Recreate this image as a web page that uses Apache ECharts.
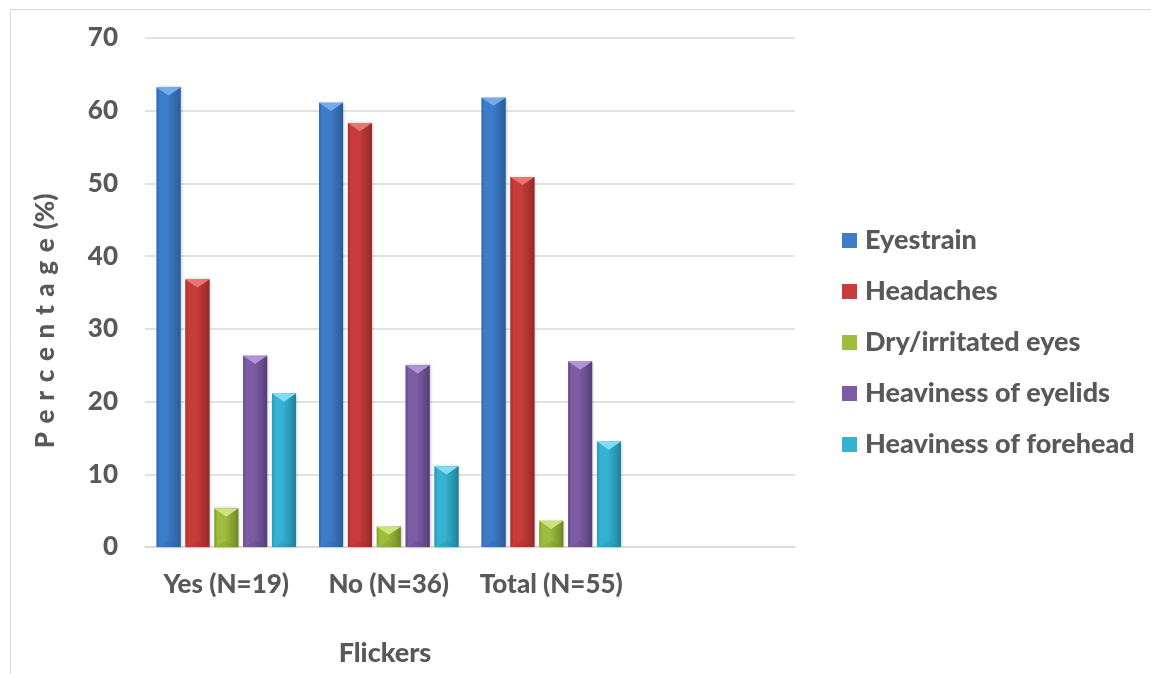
<!DOCTYPE html>
<html>
<head>
<meta charset="utf-8">
<script src="https://cdn.jsdelivr.net/npm/echarts@6/dist/echarts.min.js"></script>
<style>
  html, body { margin: 0; padding: 0; background: #ffffff; }
  #chart { width: 1151px; height: 674px; }
</style>
</head>
<body>
<div id="chart"></div>
<script>
// Symptoms reported by flicker exposure group (percent of respondents)
const categories = ['Yes (N=19)', 'No (N=36)', 'Total (N=55)', ''];
const eyestrain = [63.2, 61.1, 61.8];
const headaches = [36.8, 58.3, 50.9];
const dryEyes = [5.3, 2.8, 3.6];
const eyelids = [26.3, 25.0, 25.5];
const forehead = [21.1, 11.1, 14.5];
const yTicks = { min: 0, max: 70, interval: 10 };

const FONT = 'Lato, "Open Sans", sans-serif';
const WEIGHT = 900;
const SIZE = 26;
const TEXT = '#595959';

// light / mid / dark shades for each series' bevelled bar
const palettes = [
  { name: 'Eyestrain', data: eyestrain, light: '#74aaea', mid: '#3d7cc9', dark: '#2b5e9e', edge: '#2f66aa' },
  { name: 'Headaches', data: headaches, light: '#e77672', mid: '#c83d3a', dark: '#962b29', edge: '#a6302e' },
  { name: 'Dry/irritated eyes', data: dryEyes, light: '#cde27a', mid: '#9dbd3d', dark: '#718b28', edge: '#7d9a2c' },
  { name: 'Heaviness of eyelids', data: eyelids, light: '#b193d6', mid: '#7c5ca4', dark: '#58407b', edge: '#634887' },
  { name: 'Heaviness of forehead', data: forehead, light: '#7fdcf2', mid: '#35b1d1', dark: '#22839c', edge: '#2791ac' }
];
const SLOTS = palettes.length;

function makeRender(slot, p) {
  return function (params, api) {
    const cat = api.value(0);
    const val = api.value(1);
    const top = api.coord([cat, val]);
    const base = api.coord([cat, 0]);
    const band = api.size([1, 0])[0];
    const w = band * 0.148;
    const gap = w * 0.2;
    const groupW = SLOTS * w + (SLOTS - 1) * gap;
    const x = top[0] - groupW / 2 + slot * (w + gap);
    const y = top[1];
    const h = base[1] - y;
    const bevel = Math.min(w * 0.34, h * 0.5);
    const side = 2.2;
    const fill = new echarts.graphic.LinearGradient(0, 0, 1, 0, [
      { offset: 0, color: p.mid },
      { offset: 0.45, color: p.mid },
      { offset: 1, color: p.dark }
    ]);
    return {
      type: 'group',
      children: [
        { type: 'rect', shape: { x: x, y: y, width: w, height: h },
          style: { fill: fill, shadowBlur: 3, shadowColor: 'rgba(0,0,0,0.25)', shadowOffsetX: 1, shadowOffsetY: 0 } },
        { type: 'rect', shape: { x: x, y: y, width: side, height: h }, style: { fill: p.edge, opacity: 0.55 } },
        { type: 'rect', shape: { x: x + w - side, y: y, width: side, height: h }, style: { fill: p.dark, opacity: 0.8 } },
        { type: 'polygon', shape: { points: [[x, y], [x + w, y], [x + w - side, y + 1.5], [x + w / 2, y + bevel], [x + side, y + 1.5]] },
          style: { fill: p.light } },
        { type: 'polygon', shape: { points: [[x + side, base[1]], [x + w - side, base[1]], [x + w / 2, base[1] - bevel * 0.8]] },
          style: { fill: p.dark, opacity: 0.25 } }
      ]
    };
  };
}

const series = palettes.map(function (p, i) {
  return {
    name: p.name,
    type: 'custom',
    renderItem: makeRender(i, p),
    itemStyle: { color: p.mid },
    encode: { x: 0, y: 1 },
    data: p.data.map(function (v, k) { return [k, v]; })
  };
});

const labelStyle = { color: TEXT, fontFamily: FONT, fontWeight: WEIGHT, fontSize: SIZE };

const chart = echarts.init(document.getElementById('chart'), null, { renderer: 'canvas' });
chart.setOption({
  backgroundColor: '#ffffff',
  animation: false,
  grid: { left: 145, right: 356, top: 38, bottom: 127 },
  xAxis: {
    type: 'category',
    data: categories,
    axisTick: { show: false },
    axisLine: { lineStyle: { color: '#d9d9d9', width: 1.5 } },
    axisLabel: Object.assign({ margin: 25, interval: 0 }, labelStyle)
  },
  yAxis: {
    type: 'value',
    min: yTicks.min,
    max: yTicks.max,
    interval: yTicks.interval,
    axisLine: { show: false },
    axisTick: { show: false },
    splitLine: { lineStyle: { color: '#d9d9d9', width: 1.5 } },
    axisLabel: Object.assign({ margin: 27 }, labelStyle)
  },
  legend: {
    orient: 'vertical',
    left: 837,
    top: 222,
    itemWidth: 15,
    itemHeight: 15,
    itemGap: 24,
    icon: 'rect',
    textStyle: Object.assign({ padding: [0, 0, 0, 3] }, labelStyle, { fontSize: 27 }),
    data: palettes.map(function (p) { return p.name; })
  },
  graphic: [
    { type: 'rect', left: 8, top: 7, silent: true,
      shape: { x: 0.5, y: 0.5, width: 1200, height: 700 },
      style: { fill: 'none', stroke: '#d9d9d9', lineWidth: 1 } },
    { type: 'text', x: 46, y: 321, rotation: Math.PI / 2, silent: true,
      style: { text: 'P\u2004e\u2004r\u2004c\u2004e\u2004n\u2004t\u2004a\u2004g\u2004e\u2004(%)',
        fill: TEXT, font: WEIGHT + ' ' + SIZE + 'px ' + FONT, align: 'center', verticalAlign: 'middle' } },
    { type: 'text', x: 385, y: 653, silent: true,
      style: { text: 'Flickers', fill: TEXT, font: WEIGHT + ' 27px ' + FONT, align: 'center', verticalAlign: 'middle' } }
  ],
  series: series
});
</script>
</body>
</html>
